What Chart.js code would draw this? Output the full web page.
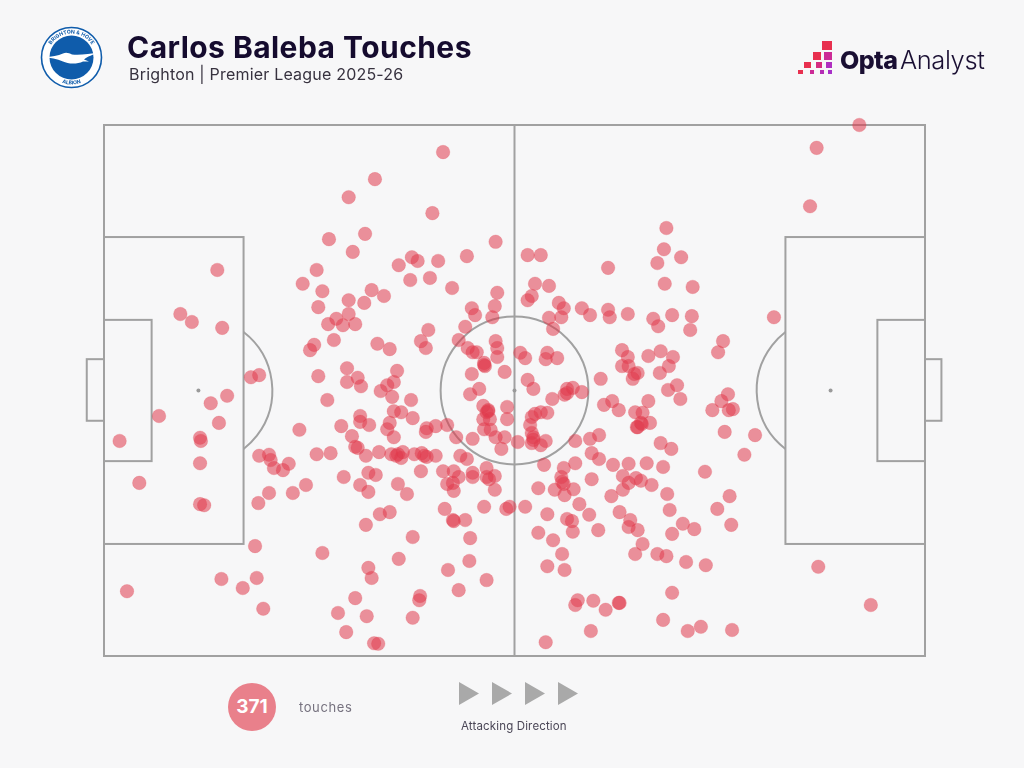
<!DOCTYPE html>
<html>
<head>
<meta charset="utf-8">
<title>Carlos Baleba Touches</title>
<script src="https://cdn.jsdelivr.net/npm/chart.js"></script>
<style>
    html, body { margin: 0; padding: 0; background: #f7f7f8; }
    #wrap { position: relative; width: 1024px; height: 768px; overflow: hidden; }
    canvas { position: absolute; left: 0; top: 0; }
    .txt { position: absolute; white-space: nowrap; font-family: Inter, sans-serif; }
    #title { left: 127px; top: 29px; font-size: 30px; line-height: 36px; font-weight: 700; color: #150b2e; letter-spacing: 0.45px; }
    #subtitle { left: 129px; top: 64px; font-size: 16px; line-height: 20px; color: #37323f; letter-spacing: 0.2px; }
    #touchCount { left: 228px; top: 683px; width: 48px; height: 48px; line-height: 48px; border-radius: 50%; background: #e9808b; color: #fff; text-align: center; font-size: 19px; font-weight: 700; }
    #touchLabel { left: 299px; top: 699px; font-size: 13px; line-height: 16px; color: #76727f; letter-spacing: 0.6px; }
    #dirLabel { left: 461px; top: 719px; font-size: 11.5px; line-height: 14px; color: #4b4757; letter-spacing: 0.15px; }
    #optaBold { left: 840px; top: 43px; font-size: 25px; line-height: 34px; font-weight: 800; color: #1a0f33; letter-spacing: -0.6px; }
    #optaLight { left: 900px; top: 43px; font-size: 25.5px; line-height: 34px; font-weight: 300; color: #1a0f33; letter-spacing: -0.4px; }
    svg { position: absolute; left: 0; top: 0; }
</style>
</head>
<body>
<div id="wrap">
    <canvas id="pitchChart" width="1024" height="768"></canvas>
    <svg width="1024" height="768" viewBox="0 0 1024 768">
        <!-- club crest -->
        <circle cx="71.5" cy="57.5" r="30" fill="#fff" stroke="#0f5cab" stroke-width="1.6"/>
        <circle cx="71.5" cy="57.5" r="22" fill="#0f5cab"/>
        <defs>
            <path id="crestTop" d="M47.5 57.5 A24 24 0 0 1 95.5 57.5"/>
            <path id="crestBottom" d="M44.5 57.5 A27 27 0 0 0 98.5 57.5"/>
        </defs>
        <text font-family="Inter, sans-serif" font-size="5.2" font-weight="700" fill="#0f5cab" text-anchor="middle"><textPath href="#crestTop" startOffset="50%">BRIGHTON &amp; HOVE</textPath></text>
        <text font-family="Inter, sans-serif" font-size="5.2" font-weight="700" fill="#0f5cab" text-anchor="middle"><textPath href="#crestBottom" startOffset="50%">ALBION</textPath></text>
        <path d="M44 57 C52 56.8 58 55.6 63 53.5 C66 52 69 53 72 54.5 C79 55.5 89 54 100 52.5 C93 54.5 87 56.5 84 59.5 L89 61.5 L83 61.5 C77 64.5 68 64 63 61.5 C57 58.5 50 58 44 57 Z" fill="#fff"/>
        <!-- opta logo -->
        <rect x="822" y="41" width="10" height="9" fill="#e8304f"/>
        <rect x="813" y="52" width="8" height="8" fill="#e8304f"/>
        <rect x="824" y="52" width="8" height="8" fill="#cc2b97"/>
        <rect x="804" y="62" width="7" height="6" fill="#e8304f"/>
        <rect x="816" y="62" width="6" height="6" fill="#d62b80"/>
        <rect x="826" y="62" width="6" height="6" fill="#b02fc0"/>
        <rect x="798" y="70" width="5" height="4" fill="#e8304f"/>
        <rect x="810" y="70" width="4" height="4" fill="#cc2b97"/>
        <rect x="820" y="70" width="4" height="4" fill="#b52db5"/>
        <rect x="828" y="70" width="4" height="4" fill="#a830c8"/>
        <!-- attacking direction -->
        <path d="M459 682 L479 693.5 L459 705 Z" fill="#a9a9a9"/>
        <path d="M492 682 L512 693.5 L492 705 Z" fill="#a9a9a9"/>
        <path d="M525 682 L545 693.5 L525 705 Z" fill="#a9a9a9"/>
        <path d="M558 682 L578 693.5 L558 705 Z" fill="#a9a9a9"/>
    </svg>
    <div class="txt" id="title">Carlos Baleba Touches</div>
    <div class="txt" id="subtitle">Brighton | Premier League 2025-26</div>
    <div class="txt" id="optaBold">Opta</div>
    <div class="txt" id="optaLight">Analyst</div>
    <div class="txt" id="touchCount">371</div>
    <div class="txt" id="touchLabel">touches</div>
    <div class="txt" id="dirLabel">Attacking Direction</div>
</div>

<script>
// Touch locations, pitch coordinates 0-100 (attacking left to right)
const touchX = [
    13.8, 9.3, 10.7, 14.4, 17.9, 18.9, 15.0, 13.0, 6.7, 14.0,
    1.9, 11.7, 11.8, 11.7, 4.3, 11.7, 12.2, 18.9, 20.1, 20.3,
    20.7, 21.8, 22.5, 20.1, 18.8, 23.0, 18.4, 2.8, 14.3, 16.9,
    18.6, 19.4, 24.6, 26.6, 41.3, 33.0, 29.8, 40.0, 31.8, 27.4,
    30.3, 47.7, 44.2, 37.5, 38.2, 35.9, 40.7, 37.3, 39.7, 25.9,
    24.2, 26.6, 42.4, 32.6, 34.1, 29.8, 47.9, 26.1, 31.7, 44.8,
    45.2, 47.6, 47.3, 29.8, 28.3, 27.3, 29.1, 30.6, 44.0, 39.5,
    25.1, 25.6, 28.0, 33.3, 34.8, 38.6, 39.2, 43.2, 44.3, 45.4,
    44.9, 47.7, 47.9, 47.9, 46.3, 46.4, 44.8, 48.8, 29.6, 30.9,
    29.6, 31.3, 35.7, 35.3, 34.5, 33.7, 35.1, 26.1, 27.2, 37.4,
    44.6, 45.7, 35.3, 36.2, 37.6, 31.2, 31.2, 32.3, 28.9, 34.8,
    34.5, 35.3, 30.2, 23.8, 46.2, 46.8, 46.6, 46.2, 47.0, 49.1,
    49.1, 39.3, 39.2, 40.4, 41.8, 42.9, 44.9, 46.3, 47.1, 47.7,
    48.8, 48.4, 30.6, 30.9, 31.9, 25.9, 27.6, 33.5, 35.0, 35.8,
    36.2, 36.4, 35.6, 37.8, 38.7, 39.0, 39.3, 40.4, 38.6, 43.4,
    44.2, 29.2, 32.2, 33.1, 31.2, 32.2, 35.8, 36.9, 41.3, 42.6,
    43.2, 41.8, 42.5, 42.6, 44.9, 44.9, 46.6, 46.6, 46.9, 47.6,
    47.6, 41.5, 46.3, 49.0, 49.4, 42.5, 42.6, 44.0, 33.6, 34.8,
    31.9, 37.6, 44.6, 35.9, 44.5, 41.9, 32.2, 32.6, 46.6, 43.2,
    30.6, 38.5, 38.4, 28.5, 32.0, 37.6, 29.5, 32.9, 33.4, 50.7,
    51.3, 54.0, 53.8, 55.2, 54.2, 55.7, 56.0, 55.4, 54.7, 58.2,
    59.2, 51.6, 52.3, 54.6, 56.4, 57.1, 58.2, 56.1, 56.4, 54.0,
    53.2, 52.5, 52.1, 51.9, 52.1, 52.3, 52.1, 50.4, 53.8, 53.2,
    57.4, 59.2, 60.3, 59.4, 60.3, 62.0, 63.9, 66.1, 67.8, 69.1,
    68.1, 65.0, 65.5, 66.5, 53.6, 57.4, 56.0, 59.4, 55.7, 55.8,
    56.0, 57.2, 54.9, 52.9, 56.1, 63.2, 64.8, 63.9, 65.4, 66.7,
    63.2, 61.8, 68.6, 57.9, 51.3, 54.0, 59.1, 56.4, 57.0, 57.1,
    60.2, 52.9, 54.7, 55.8, 54.0, 56.1, 62.8, 64.1, 63.9, 65.0,
    65.6, 64.7, 67.4, 68.5, 68.9, 70.5, 71.9, 69.2, 70.9, 73.3,
    69.2, 57.7, 57.4, 59.6, 61.1, 62.7, 62.8, 68.1, 59.3, 71.1,
    72.7, 76.5, 53.8, 75.6, 79.3, 78.0, 73.2, 76.2, 74.7, 76.4,
    68.5, 68.2, 70.3, 67.4, 61.4, 51.6, 53.2, 52.5, 54.2, 52.1,
    51.6, 68.3, 71.7, 61.4, 61.6, 63.8, 66.9, 67.5, 69.2, 71.6,
    71.4, 75.4, 74.8, 63.1, 63.8, 66.3, 67.8, 69.3, 63.1, 63.9,
    68.8, 65.0, 64.6, 64.4, 67.7, 60.5, 69.8, 68.7, 70.2, 76.0,
    75.2, 74.1, 76.1, 76.6, 66.3, 61.9, 60.9, 62.7, 64.7, 65.6,
    65.4, 64.9, 81.6, 92.0, 86.8, 86.0, 87.0, 93.4, 52.3, 46.3,
    46.8
];
const touchY = [
    72.7, 64.4, 62.9, 61.8, 52.5, 52.9, 49.0, 47.6, 45.2, 43.9,
    40.5, 41.1, 40.5, 36.3, 32.6, 28.6, 28.4, 37.7, 37.9, 36.9,
    35.4, 35.0, 36.2, 30.7, 28.8, 30.7, 20.7, 12.2, 14.5, 12.8,
    14.7, 8.9, 32.2, 19.4, 94.9, 89.8, 86.4, 83.4, 79.5, 78.5,
    76.1, 78.0, 75.3, 75.1, 74.4, 73.6, 74.4, 70.8, 71.2, 72.7,
    70.1, 68.7, 69.3, 68.9, 67.8, 67.0, 68.4, 65.7, 66.5, 65.5,
    64.2, 65.9, 63.8, 64.4, 63.5, 62.5, 62.3, 62.5, 62.0, 61.4,
    57.6, 58.6, 59.5, 58.8, 57.8, 59.3, 58.0, 59.5, 58.0, 57.2,
    57.2, 59.3, 58.0, 56.3, 55.2, 54.6, 53.1, 53.5, 54.2, 52.4,
    51.6, 50.8, 53.7, 51.6, 51.0, 49.9, 48.8, 52.7, 48.2, 48.2,
    49.3, 50.3, 46.1, 45.9, 44.8, 45.2, 44.1, 43.5, 43.3, 43.9,
    42.7, 41.2, 41.4, 42.6, 47.1, 46.3, 45.9, 44.6, 44.6, 46.9,
    44.6, 42.9, 42.2, 43.3, 43.5, 41.2, 40.9, 42.7, 42.6, 41.2,
    41.2, 39.0, 39.4, 39.2, 37.7, 38.0, 38.2, 38.4, 38.0, 38.0,
    37.3, 38.4, 37.7, 38.0, 38.2, 37.7, 37.5, 37.7, 34.8, 37.7,
    37.1, 33.7, 34.5, 34.1, 32.2, 30.9, 32.4, 30.5, 34.8, 34.8,
    33.7, 32.4, 32.6, 31.1, 34.5, 33.7, 35.4, 33.7, 33.3, 33.9,
    31.3, 27.7, 28.1, 27.7, 28.1, 25.6, 25.4, 25.6, 26.7, 27.1,
    24.7, 22.4, 22.2, 18.3, 17.9, 16.2, 16.6, 14.7, 14.3, 12.4,
    10.9, 11.3, 10.5, 8.1, 7.5, 7.2, 4.5, 2.4, 2.3, 57.1,
    56.1, 57.1, 55.9, 56.1, 63.7, 63.8, 65.5, 66.5, 61.6, 65.5,
    64.2, 52.0, 50.3, 48.4, 50.3, 50.5, 49.7, 49.2, 49.5, 45.8,
    45.9, 45.6, 45.0, 43.5, 42.0, 40.7, 40.1, 40.3, 40.5, 39.7,
    40.5, 40.9, 41.6, 38.2, 37.1, 36.0, 36.2, 36.3, 40.1, 39.0,
    35.6, 43.1, 43.7, 43.9, 36.0, 36.3, 35.4, 33.3, 33.7, 32.8,
    32.4, 31.4, 31.3, 31.6, 30.3, 33.9, 33.5, 32.6, 33.0, 32.2,
    31.3, 30.1, 30.5, 28.6, 28.1, 26.7, 26.6, 25.8, 25.4, 23.4,
    23.7, 23.2, 21.8, 19.2, 16.9, 16.2, 27.1, 25.6, 24.3, 23.7,
    21.1, 19.2, 19.2, 18.8, 27.5, 24.9, 23.9, 23.0, 17.7, 17.1,
    11.9, 10.5, 9.6, 10.4, 8.7, 10.0, 10.0, 6.8, 4.7, 4.7,
    5.5, 4.9, 2.6, 42.2, 41.6, 37.9, 34.7, 30.1, 27.7, 24.7,
    80.6, 76.6, 75.1, 74.0, 73.1, 75.5, 75.5, 70.1, 69.7, 67.8,
    67.0, 70.1, 69.5, 65.2, 63.8, 64.4, 63.5, 62.1, 64.2, 64.0,
    61.4, 59.3, 57.2, 57.6, 56.3, 56.5, 57.4, 56.3, 54.6, 54.6,
    54.6, 53.3, 53.1, 52.2, 53.3, 52.2, 51.0, 50.1, 48.4, 49.3,
    48.0, 46.3, 46.3, 46.5, 48.0, 48.0, 47.3, 46.3, 45.9, 45.8,
    43.9, 43.1, 63.8, 100.0, 95.7, 84.7, 16.8, 9.6, 41.2, 54.8,
    46.1
];

// Pitch markings as [x0, y0, x1, y1] rectangles, same coordinates
const pitchRects = [
    [0, 0, 100, 100],
    [0, 21.1, 17, 78.9],
    [0, 36.7, 5.8, 63.3],
    [-2.1, 44.3, 0, 55.9],
    [83, 21.1, 100, 78.9],
    [94.2, 36.7, 100, 63.3],
    [100, 44.3, 102, 55.9]
];
const pitchSpots = [[11.5, 50], [50, 50], [88.5, 50]];
const centreCircleRadius = 9;   // in x units
const boxLineX = [17, 83];

const lineColor = '#a1a1a1';

const pitchPlugin = {
    id: 'pitch',
    beforeDatasetsDraw(chart) {
        const { ctx, scales: { x, y } } = chart;
        const radius = x.getPixelForValue(centreCircleRadius) - x.getPixelForValue(0);
        ctx.save();
        ctx.strokeStyle = lineColor;
        ctx.lineWidth = 2;

        pitchRects.forEach(r => {
            const left = x.getPixelForValue(r[0]);
            const right = x.getPixelForValue(r[2]);
            const top = y.getPixelForValue(r[3]);
            const bottom = y.getPixelForValue(r[1]);
            ctx.strokeRect(left, top, right - left, bottom - top);
        });

        // halfway line
        ctx.beginPath();
        ctx.moveTo(x.getPixelForValue(50), y.getPixelForValue(0));
        ctx.lineTo(x.getPixelForValue(50), y.getPixelForValue(100));
        ctx.stroke();

        // centre circle
        ctx.beginPath();
        ctx.arc(x.getPixelForValue(50), y.getPixelForValue(50), radius, 0, Math.PI * 2);
        ctx.stroke();

        // penalty arcs, only the part outside each box
        [[pitchSpots[0][0], boxLineX[0], 0], [pitchSpots[2][0], boxLineX[1], Math.PI]].forEach(a => {
            const spot = x.getPixelForValue(a[0]);
            const gap = Math.abs(x.getPixelForValue(a[1]) - spot);
            const sweep = Math.acos(gap / radius);
            ctx.beginPath();
            ctx.arc(spot, y.getPixelForValue(50), radius, a[2] - sweep, a[2] + sweep);
            ctx.stroke();
        });

        ctx.fillStyle = '#9a9a9a';
        pitchSpots.forEach(s => {
            ctx.beginPath();
            ctx.arc(x.getPixelForValue(s[0]), y.getPixelForValue(s[1]), 2, 0, Math.PI * 2);
            ctx.fill();
        });
        ctx.restore();
    }
};

new Chart(document.getElementById('pitchChart'), {
    type: 'scatter',
    data: {
        datasets: [{
            label: 'Touches',
            data: touchX.map((v, i) => ({ x: v, y: touchY[i] })),
            backgroundColor: 'rgba(224, 58, 76, 0.55)',
            borderColor: 'rgba(224, 58, 76, 0.2)',
            borderWidth: 1,
            pointRadius: 6.8,
            clip: false
        }]
    },
    options: {
        responsive: false,
        animation: false,
        layout: { padding: { left: 104, right: 99, top: 125, bottom: 112 } },
        scales: {
            x: { type: 'linear', min: 0, max: 100, display: false },
            y: { type: 'linear', min: 0, max: 100, display: false }
        },
        plugins: { legend: { display: false }, tooltip: { enabled: false } }
    },
    plugins: [pitchPlugin]
});
</script>
</body>
</html>
